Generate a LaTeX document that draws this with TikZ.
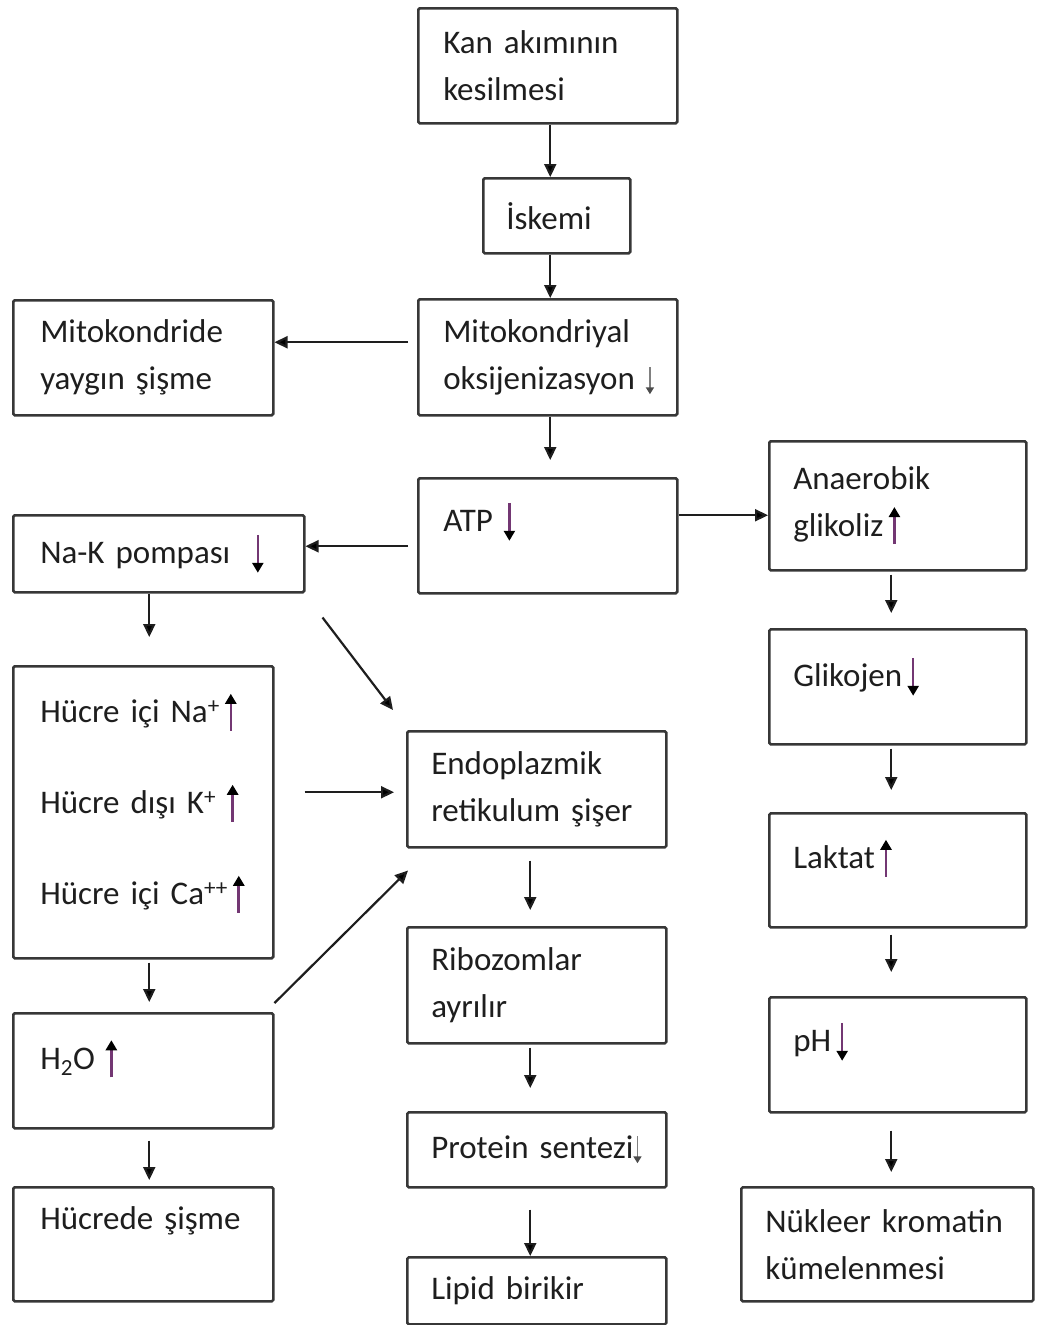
\documentclass[tikz,border=0pt]{standalone}
\usepackage{fontspec}
\setmainfont{Carlito}
\usetikzlibrary{arrows.meta,calc}
\definecolor{ink}{RGB}{30,30,30}
\definecolor{boxc}{RGB}{55,55,55}
\definecolor{purp}{RGB}{115,55,115}
\newcommand\ua{\tikz[baseline=0pt]\draw[line width=2.6pt,draw=purp,-{Triangle[length=10pt,width=11pt,color=black]}](0pt,-8pt)--(0pt,29pt);}
\newcommand\da{\tikz[baseline=0pt]\draw[line width=2.6pt,draw=purp,-{Triangle[length=10pt,width=11pt,color=black]}](0pt,29pt)--(0pt,-9pt);}
\newcommand\das{\tikz[baseline=0pt]\draw[line width=1.8pt,draw=gray,-{Triangle[length=7pt,width=8pt,color=black!70]}](0pt,22pt)--(0pt,-5pt);}
\newcommand\lift[2]{\raisebox{#1}[\height][\depth]{#2}}
\begin{document}
\begin{tikzpicture}[x=1pt,y=-1pt,
  box/.style={draw=boxc,line width=2.5pt,rounded corners=1.5pt,inner xsep=25pt,inner ysep=0pt,
    align=left,anchor=north west,font=\fontsize{33}{47}\selectfont,text=ink},
  arr/.style={draw=ink,line width=2.2pt,-{Triangle[length=13pt,width=12pt]}}]
\useasboundingbox (0,0) rectangle (1047,1325);
% centre column
\node[box,text width=209pt,minimum height=115pt] (kan) at (417,7) {Kan akımının\\kesilmesi};
\node[box,text width=101pt,minimum height=75pt,inner xsep=23pt] (isk) at (482,177) {İskemi};
\node[box,text width=209pt,minimum height=116pt] (mito) at (417,298) {Mitokondriyal\\\mbox{oksijenizasyon \das}};
\node[box,text width=209pt,minimum height=115pt] (atp) at (417,477) {\lift{14pt}{ATP \da}};
\node[box,text width=211pt,minimum height=116pt,inner xsep=24pt] (endo) at (406,730) {Endoplazmik\\retikulum şişer};
\node[box,text width=211pt,minimum height=116pt,inner xsep=24pt] (ribo) at (406,926) {Ribozomlar\\ayrılır};
\node[box,text width=211pt,minimum height=75pt,inner xsep=24pt] (prot) at (406,1111) {\mbox{Protein sentezi\das}};
\node[box,text width=211pt,minimum height=67pt,inner xsep=24pt] (lip) at (406,1256) {Lipid birikir};
% left column
\node[box,text width=206pt,minimum height=115pt,inner xsep=27pt] (mitod) at (12,299) {Mitokondride\\yaygın şişme};
\node[box,text width=237pt,minimum height=77pt,inner xsep=27pt] (nak) at (12,514) {Na-K pompası \ \da};
\node[box,text width=206pt,minimum height=292pt,inner xsep=27pt] (hic) at (12,665)
  {\lift{9pt}{\parbox{206pt}{Hücre içi Na\textsuperscript{+}\,\ua\\[44pt]Hücre dışı K\textsuperscript{+} \ua\\[44pt]Hücre içi Ca\textsuperscript{++}\,\ua}}};
\node[box,text width=206pt,minimum height=115pt,inner xsep=27pt] (h2o) at (12,1012) {\lift{12pt}{H\textsubscript{2}O \ua}};
\node[box,text width=206pt,minimum height=114pt,inner xsep=27pt] (hsis) at (12,1186) {\lift{23pt}{Hücrede şişme}};
% right column
\node[box,text width=209pt,minimum height=129pt,inner xsep=24pt] (ana) at (768,440) {Anaerobik\\glikoliz\,\ua};
\node[box,text width=209pt,minimum height=115pt,inner xsep=24pt] (gli) at (768,628) {\lift{10pt}{Glikojen\,\da}};
\node[box,text width=209pt,minimum height=114pt,inner xsep=24pt] (lak) at (768,812) {\lift{12pt}{Laktat\,\ua}};
\node[box,text width=209pt,minimum height=115pt,inner xsep=24pt] (ph) at (768,996) {\lift{13pt}{pH\,\da}};
\node[box,text width=244pt,minimum height=114pt,inner xsep=24pt] (nuk) at (740,1186) {Nükleer kromatin\\kümelenmesi};
% connectors
\draw[arr] ([xshift=2.5pt]kan.south) -- ([xshift=2.5pt]kan.south |- isk.north);
\draw[arr] ([xshift=-6.5pt]isk.south) -- ([xshift=-6.5pt]isk.south |- mito.north);
\draw[arr,shorten <=9pt] ([yshift=15pt]mito.west) -- ([yshift=15pt]mito.west -| mitod.east);
\draw[arr,shorten >=17pt] ([xshift=2.5pt]mito.south) -- ([xshift=2.5pt]mito.south |- atp.north);
\draw[arr,shorten <=9pt] ([yshift=-10.5pt]atp.west) -- ([yshift=-10.5pt]atp.west -| nak.east);
\draw[arr] ([yshift=20.5pt]atp.east) -- ([yshift=20.5pt]atp.east -| ana.west);
\draw[arr,shorten >=28pt] ([xshift=-9.5pt]nak.south) -- ([xshift=-9.5pt]nak.south |- hic.north);
\draw[arr] ([shift={(17pt,-24pt)}]nak.south east) -- ([shift={(-13pt,20pt)}]endo.north west);
\draw[arr,shorten <=30pt,shorten >=12pt] ([yshift=20pt]hic.east) -- ([yshift=20pt]hic.east -| endo.west);
\draw[arr] ([yshift=9pt]h2o.north east) -- ([shift={(2pt,-22pt)}]endo.south west);
\draw[arr,shorten <=3pt,shorten >=10pt] ([xshift=6pt]hic.south) -- ([xshift=6pt]hic.south |- h2o.north);
\draw[arr,shorten <=11pt,shorten >=6pt] ([xshift=6pt]h2o.south) -- ([xshift=6pt]h2o.south |- hsis.north);
\draw[arr,shorten <=12pt,shorten >=16pt] ([xshift=-6.5pt]endo.south) -- ([xshift=-6.5pt]endo.south |- ribo.north);
\draw[arr,shorten <=3pt,shorten >=23pt] ([xshift=-6.5pt]ribo.south) -- ([xshift=-6.5pt]ribo.south |- prot.north);
\draw[arr,shorten <=21pt] ([xshift=-6.5pt]prot.south) -- ([xshift=-6.5pt]prot.south |- lip.north);
\draw[arr,shorten <=3pt,shorten >=15pt] ([xshift=-6.5pt]ana.south) -- ([xshift=-6.5pt]ana.south |- gli.north);
\draw[arr,shorten <=3pt,shorten >=22pt] ([xshift=-6.5pt]gli.south) -- ([xshift=-6.5pt]gli.south |- lak.north);
\draw[arr,shorten <=6pt,shorten >=24pt] ([xshift=-6.5pt]lak.south) -- ([xshift=-6.5pt]lak.south |- ph.north);
\draw[arr,shorten <=17pt,shorten >=14pt] ([xshift=-6.5pt]ph.south) -- ([xshift=-6.5pt]ph.south |- nuk.north);
\end{tikzpicture}
\end{document}
